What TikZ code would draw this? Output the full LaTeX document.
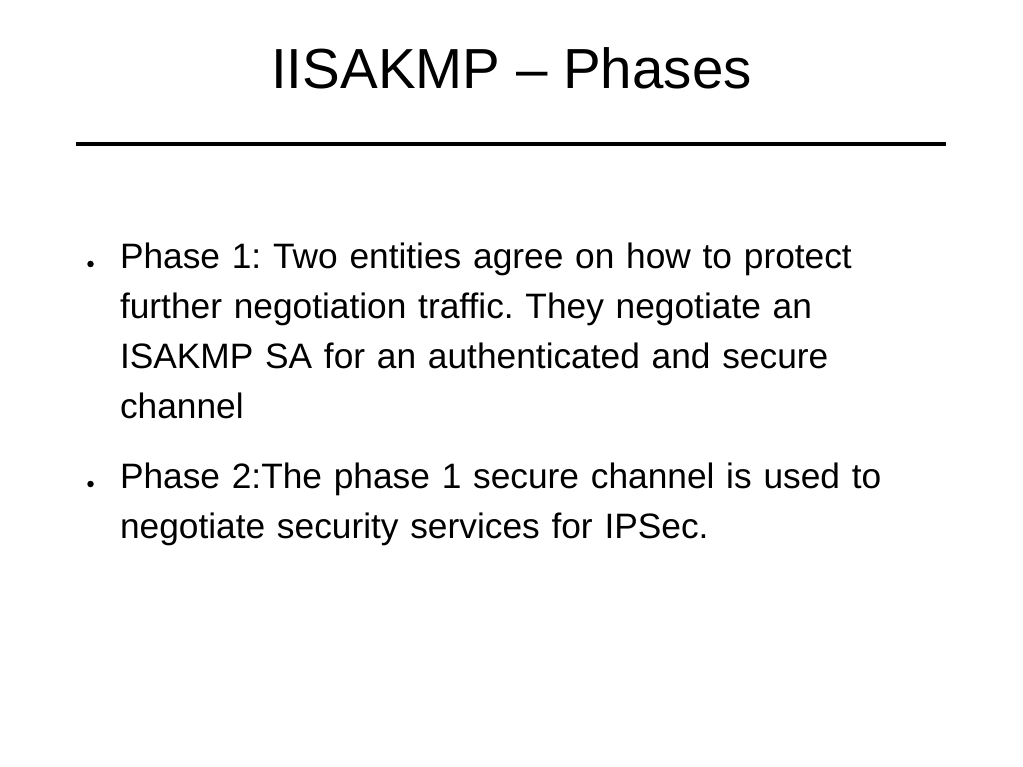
\documentclass[tikz,border=0pt]{standalone}
\usepackage{fontspec}
\setmainfont{Liberation Sans}
\usetikzlibrary{positioning}
\frenchspacing

\begin{document}
\begin{tikzpicture}[x=1pt, y=-1pt, every node/.style={inner sep=0pt, outer sep=0pt},
        item/.style={anchor=base west, align=left, text width=880pt, font=\fontsize{35.3}{50}\selectfont},
        dot/.style={circle, fill=black, minimum size=6.5pt}]
        % Page
        \useasboundingbox (0,0) rectangle (1023,767);

        % Title and rule
        \node[anchor=base, font=\fontsize{56.5}{68}\selectfont] (title) at (511.5,88.5) {IISAKMP -- Phases};
        \coordinate (ruleL) at (76,144);
        \coordinate (ruleR) at (946,144);
        \draw[line width=4pt] (ruleL) -- (ruleR);

        % Items
        \node[item] (one) at (120,268.3) {Phase 1: Two entities agree on how to protect\\
                further negotiation traffic. They negotiate an\\
                ISAKMP SA for an authenticated and secure\\
                channel};
        \node[item] (two) at (120,488.3) {Phase 2:The phase 1 secure channel is used to\\
                negotiate security services for IPSec.};

        % Bullets
        \node[dot] (dotA) at (90.5,264) {};
        \node[dot] (dotB) at (90.5,484) {};
\end{tikzpicture}
\end{document}
